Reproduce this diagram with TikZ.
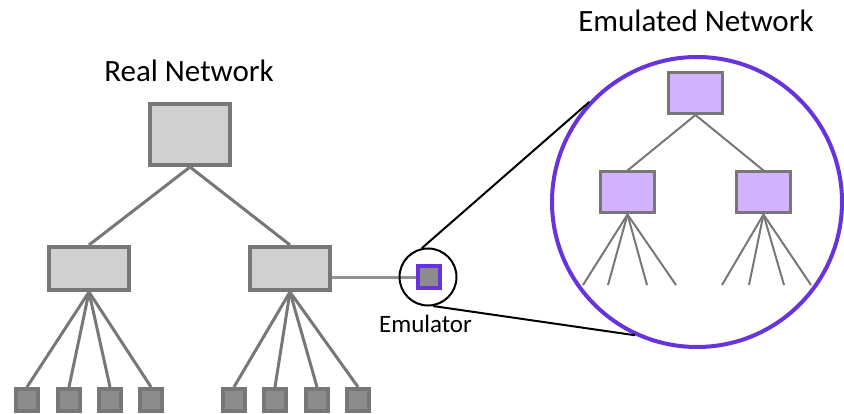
\documentclass[tikz,border=0pt]{standalone}
\usepackage{fontspec}
\setmainfont{Carlito}
\usetikzlibrary{calc, positioning}
\definecolor{boxgray}{HTML}{D0D0D0}
\definecolor{edgegray}{HTML}{777777}
\definecolor{leafgray}{HTML}{8C8C8C}
\definecolor{emupurple}{HTML}{6633DD}
\definecolor{lavender}{HTML}{D1B3FF}

\begin{document}
\begin{tikzpicture}[x=1pt, y=-1pt,
  sw/.style = {draw=edgegray, fill=boxgray, line width=4pt, inner sep=0pt, minimum width=80pt},
  leaf/.style = {draw=edgegray, fill=leafgray, line width=4pt, inner sep=0pt, minimum size=22pt},
  esw/.style = {draw=edgegray, fill=lavender, line width=3pt, inner sep=0pt, minimum width=54pt, minimum height=41pt},
  link/.style = {draw=edgegray, line width=3pt},
  elink/.style = {draw=edgegray, line width=2pt},
  zoomline/.style = {draw=black, line width=2pt},
  lbl/.style = {anchor=base, inner sep=0pt, font=\fontsize{31}{36}\selectfont}]
\useasboundingbox (0,0) rectangle (844,414);

% real network
\node[lbl] (realtxt) at (189,82) {Real Network};
\node[sw, minimum height=61pt] (root) at (190,134.5) {};
\node[sw, minimum height=43pt] (midL) at (89,268.5) {};
\node[sw, minimum height=43pt] (midR) at (290,268.5) {};
\draw[link] (root.south) -- (midL.north);
\draw[link] (root.south) -- (midR.north);
\foreach \n/\x in {1/27, 2/69, 3/110, 4/151}{
  \node[leaf] (l\n) at (\x,400) {};
  \draw[link] (midL.south) -- (l\n.north);
}
\foreach \n/\x in {1/234, 2/275, 3/317, 4/358}{
  \node[leaf] (r\n) at (\x,400) {};
  \draw[link] (midR.south) -- (r\n.north);
}

% emulator
\node[draw=emupurple, fill=leafgray, line width=4pt, inner sep=0pt, minimum size=22pt] (emu) at (429,277.5) {};
\draw[draw=edgegray!80, line width=3pt] (emu.west) -- (emu.west -| midR.east);
\node[draw=black, line width=2pt, circle, inner sep=0pt, minimum size=57pt] (lens) at (428,277) {};
\node[lbl, font=\fontsize{25}{30}\selectfont] (emutxt) at (425.5,332) {Emulator};

% emulated network
\node[lbl] (emultxt) at (696,32) {Emulated Network};
\node[draw=emupurple, line width=4pt, circle, inner sep=0pt, minimum size=290pt] (big) at (697,202) {};
\draw[zoomline] (lens.102) -- (big.137);
\draw[zoomline] (lens.280) -- (big.245);
\node[esw] (eroot) at (695.5,93) {};
\node[esw] (eL) at (627.5,192.5) {};
\node[esw] (eR) at (763.5,192.5) {};
\draw[elink] (eroot.south) -- (eL.north);
\draw[elink] (eroot.south) -- (eR.north);
\foreach \n/\x in {1/583, 2/608, 3/647, 4/676}{
  \coordinate (el\n) at (\x,285);
  \draw[elink] (eL.south) -- (el\n);
}
\foreach \n/\x in {1/722, 2/749, 3/784, 4/811}{
  \coordinate (er\n) at (\x,285);
  \draw[elink] (eR.south) -- (er\n);
}
\end{tikzpicture}
\end{document}
